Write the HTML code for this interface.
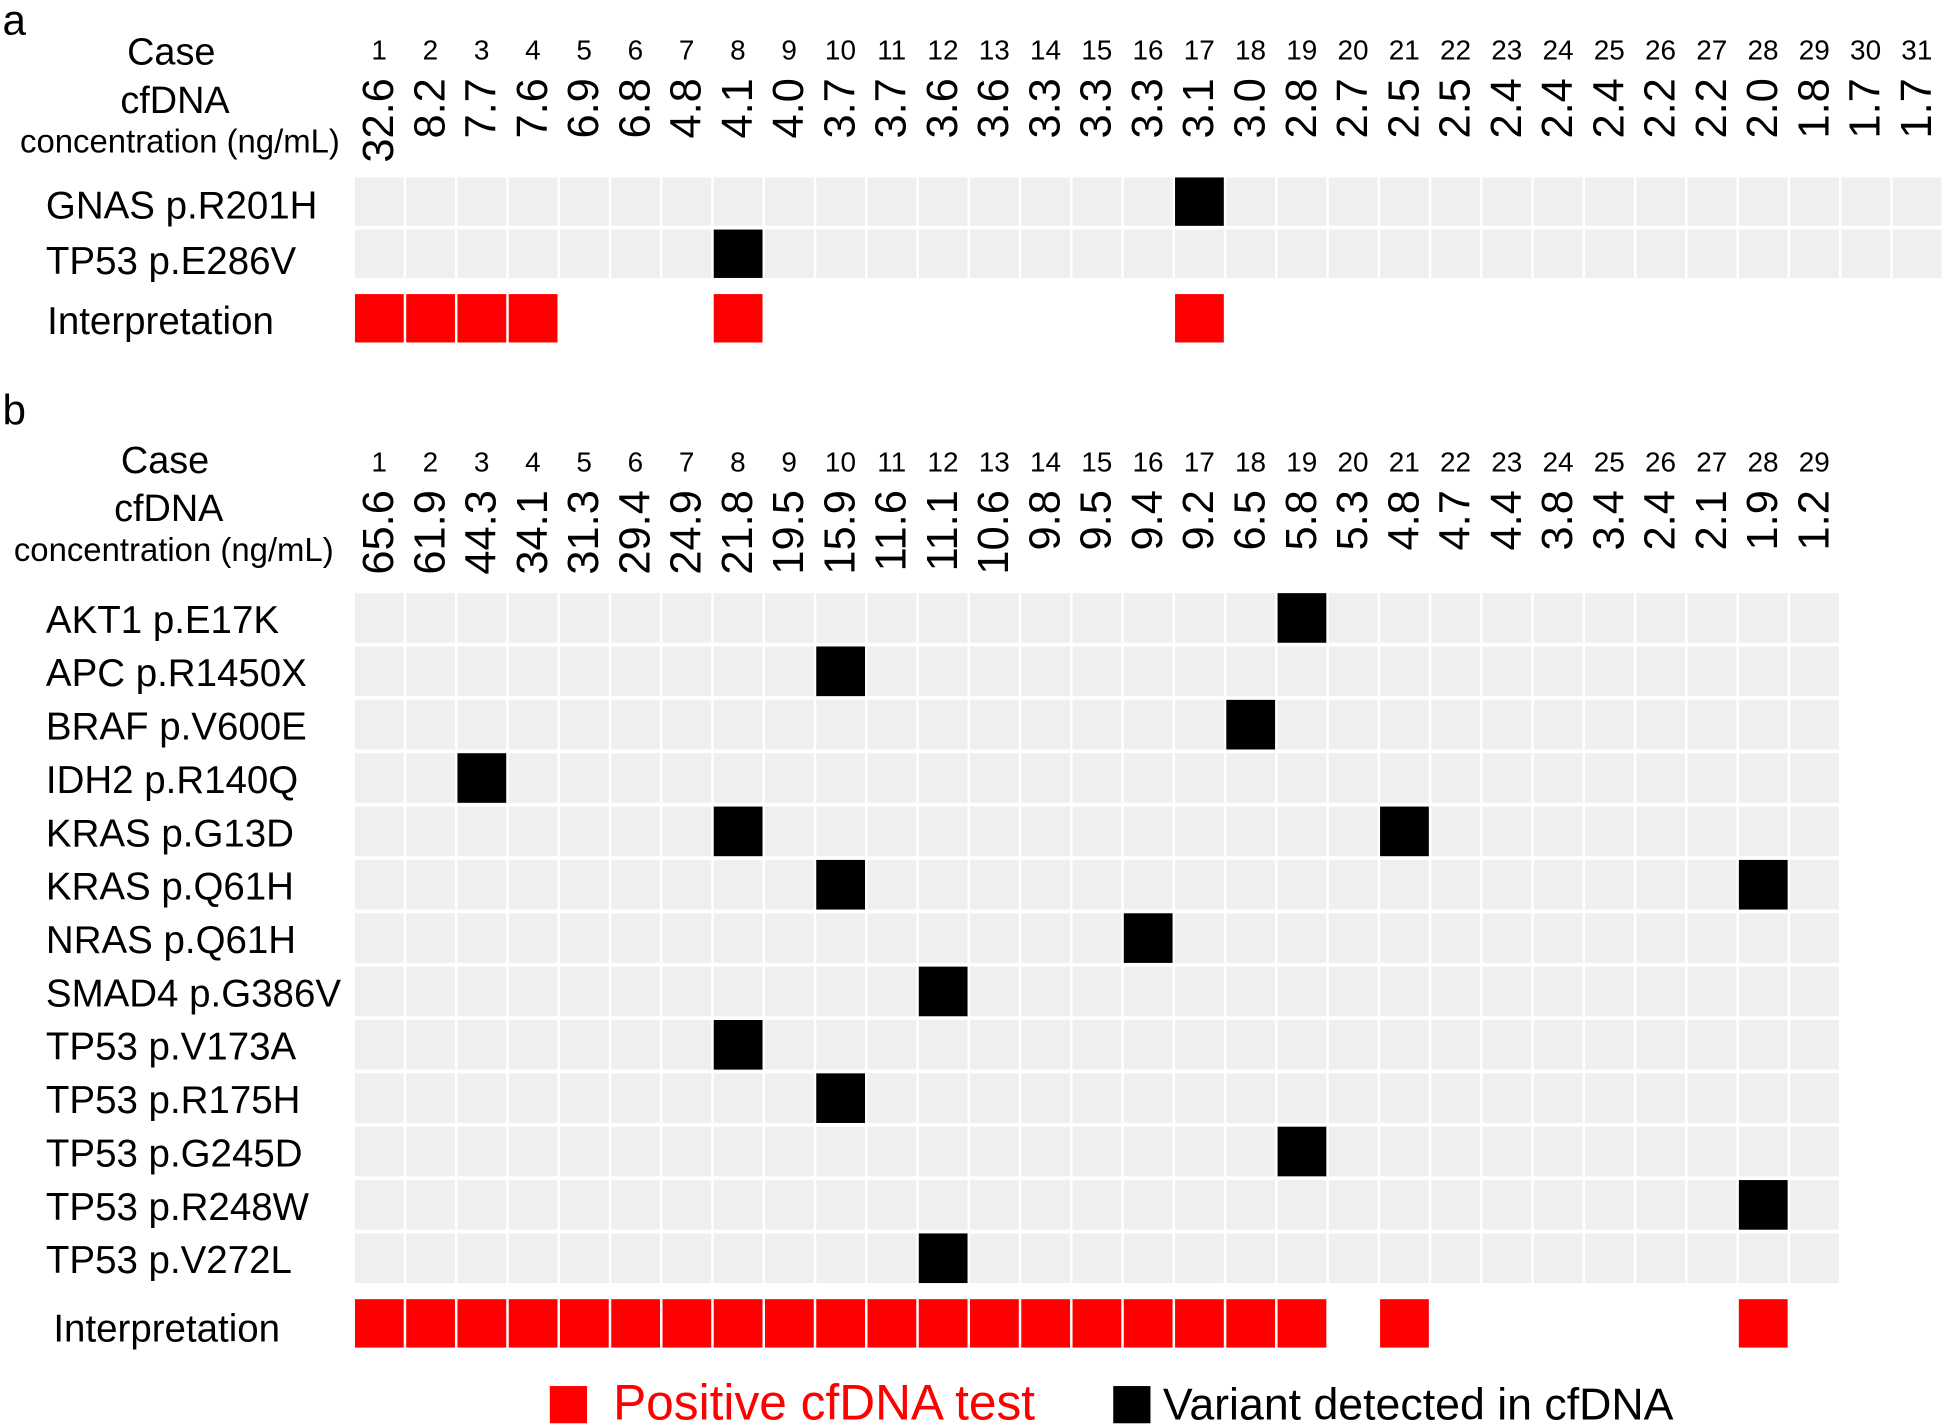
<!DOCTYPE html>
<html><head><meta charset="utf-8"><style>
html,body{margin:0;padding:0;background:#fff;}
svg{display:block;font-family:"Liberation Sans",Arial,sans-serif;}
</style></head><body>
<svg width="1946" height="1427" viewBox="0 0 1568 1150" preserveAspectRatio="none" xmlns="http://www.w3.org/2000/svg">
<g id="cells"></g>
<g font-size="34" fill="#000"><text x="2" y="28">a</text><text x="2" y="342">b</text></g>
<g font-size="30.5" text-anchor="middle">
<text x="138" y="52">Case</text><text x="141" y="91">cfDNA</text>
<text x="133" y="381">Case</text><text x="136" y="420">cfDNA</text>
</g>
<g font-size="26.5" text-anchor="middle">
<text x="145" y="123">concentration (ng/mL)</text>
<text x="140" y="452">concentration (ng/mL)</text>
</g>
<g font-size="31">
<text x="37" y="176">GNAS p.R201H</text>
<text x="37" y="221">TP53 p.E286V</text>
<text x="38" y="269">Interpretation</text>
<text x="37" y="510">AKT1 p.E17K</text>
<text x="37" y="553">APC p.R1450X</text>
<text x="37" y="596">BRAF p.V600E</text>
<text x="37" y="639">IDH2 p.R140Q</text>
<text x="37" y="682">KRAS p.G13D</text>
<text x="37" y="725">KRAS p.Q61H</text>
<text x="37" y="768">NRAS p.Q61H</text>
<text x="37" y="811">SMAD4 p.G386V</text>
<text x="37" y="854">TP53 p.V173A</text>
<text x="37" y="897">TP53 p.R175H</text>
<text x="37" y="940">TP53 p.G245D</text>
<text x="37" y="983">TP53 p.R248W</text>
<text x="37" y="1026">TP53 p.V272L</text>
<text x="43" y="1081">Interpretation</text>
</g>
<g font-size="22.5" text-anchor="middle">
<text x="305.5" y="48">1</text><text x="346.8" y="48">2</text><text x="388.1" y="48">3</text><text x="429.4" y="48">4</text><text x="470.7" y="48">5</text><text x="512" y="48">6</text><text x="553.3" y="48">7</text><text x="594.6" y="48">8</text><text x="635.9" y="48">9</text><text x="677.2" y="48">10</text><text x="718.5" y="48">11</text><text x="759.8" y="48">12</text><text x="801.1" y="48">13</text><text x="842.4" y="48">14</text><text x="883.7" y="48">15</text><text x="925" y="48">16</text><text x="966.3" y="48">17</text><text x="1007.6" y="48">18</text><text x="1048.9" y="48">19</text><text x="1090.2" y="48">20</text><text x="1131.5" y="48">21</text><text x="1172.8" y="48">22</text><text x="1214.1" y="48">23</text><text x="1255.4" y="48">24</text><text x="1296.7" y="48">25</text><text x="1338" y="48">26</text><text x="1379.3" y="48">27</text><text x="1420.6" y="48">28</text><text x="1461.9" y="48">29</text><text x="1503.2" y="48">30</text><text x="1544.5" y="48">31</text>
<text x="305.5" y="380">1</text><text x="346.8" y="380">2</text><text x="388.1" y="380">3</text><text x="429.4" y="380">4</text><text x="470.7" y="380">5</text><text x="512" y="380">6</text><text x="553.3" y="380">7</text><text x="594.6" y="380">8</text><text x="635.9" y="380">9</text><text x="677.2" y="380">10</text><text x="718.5" y="380">11</text><text x="759.8" y="380">12</text><text x="801.1" y="380">13</text><text x="842.4" y="380">14</text><text x="883.7" y="380">15</text><text x="925" y="380">16</text><text x="966.3" y="380">17</text><text x="1007.6" y="380">18</text><text x="1048.9" y="380">19</text><text x="1090.2" y="380">20</text><text x="1131.5" y="380">21</text><text x="1172.8" y="380">22</text><text x="1214.1" y="380">23</text><text x="1255.4" y="380">24</text><text x="1296.7" y="380">25</text><text x="1338" y="380">26</text><text x="1379.3" y="380">27</text><text x="1420.6" y="380">28</text><text x="1461.9" y="380">29</text>
</g>
<g font-size="35" text-anchor="end" dominant-baseline="central">
<text transform="translate(305.5,63) rotate(-90)">32.6</text><text transform="translate(346.8,63) rotate(-90)">8.2</text><text transform="translate(388.1,63) rotate(-90)">7.7</text><text transform="translate(429.4,63) rotate(-90)">7.6</text><text transform="translate(470.7,63) rotate(-90)">6.9</text><text transform="translate(512,63) rotate(-90)">6.8</text><text transform="translate(553.3,63) rotate(-90)">4.8</text><text transform="translate(594.6,63) rotate(-90)">4.1</text><text transform="translate(635.9,63) rotate(-90)">4.0</text><text transform="translate(677.2,63) rotate(-90)">3.7</text><text transform="translate(718.5,63) rotate(-90)">3.7</text><text transform="translate(759.8,63) rotate(-90)">3.6</text><text transform="translate(801.1,63) rotate(-90)">3.6</text><text transform="translate(842.4,63) rotate(-90)">3.3</text><text transform="translate(883.7,63) rotate(-90)">3.3</text><text transform="translate(925,63) rotate(-90)">3.3</text><text transform="translate(966.3,63) rotate(-90)">3.1</text><text transform="translate(1007.6,63) rotate(-90)">3.0</text><text transform="translate(1048.9,63) rotate(-90)">2.8</text><text transform="translate(1090.2,63) rotate(-90)">2.7</text><text transform="translate(1131.5,63) rotate(-90)">2.5</text><text transform="translate(1172.8,63) rotate(-90)">2.5</text><text transform="translate(1214.1,63) rotate(-90)">2.4</text><text transform="translate(1255.4,63) rotate(-90)">2.4</text><text transform="translate(1296.7,63) rotate(-90)">2.4</text><text transform="translate(1338,63) rotate(-90)">2.2</text><text transform="translate(1379.3,63) rotate(-90)">2.2</text><text transform="translate(1420.6,63) rotate(-90)">2.0</text><text transform="translate(1461.9,63) rotate(-90)">1.8</text><text transform="translate(1503.2,63) rotate(-90)">1.7</text><text transform="translate(1544.5,63) rotate(-90)">1.7</text>
<text transform="translate(305.5,395) rotate(-90)">65.6</text><text transform="translate(346.8,395) rotate(-90)">61.9</text><text transform="translate(388.1,395) rotate(-90)">44.3</text><text transform="translate(429.4,395) rotate(-90)">34.1</text><text transform="translate(470.7,395) rotate(-90)">31.3</text><text transform="translate(512,395) rotate(-90)">29.4</text><text transform="translate(553.3,395) rotate(-90)">24.9</text><text transform="translate(594.6,395) rotate(-90)">21.8</text><text transform="translate(635.9,395) rotate(-90)">19.5</text><text transform="translate(677.2,395) rotate(-90)">15.9</text><text transform="translate(718.5,395) rotate(-90)">11.6</text><text transform="translate(759.8,395) rotate(-90)">11.1</text><text transform="translate(801.1,395) rotate(-90)">10.6</text><text transform="translate(842.4,395) rotate(-90)">9.8</text><text transform="translate(883.7,395) rotate(-90)">9.5</text><text transform="translate(925,395) rotate(-90)">9.4</text><text transform="translate(966.3,395) rotate(-90)">9.2</text><text transform="translate(1007.6,395) rotate(-90)">6.5</text><text transform="translate(1048.9,395) rotate(-90)">5.8</text><text transform="translate(1090.2,395) rotate(-90)">5.3</text><text transform="translate(1131.5,395) rotate(-90)">4.8</text><text transform="translate(1172.8,395) rotate(-90)">4.7</text><text transform="translate(1214.1,395) rotate(-90)">4.4</text><text transform="translate(1255.4,395) rotate(-90)">3.8</text><text transform="translate(1296.7,395) rotate(-90)">3.4</text><text transform="translate(1338,395) rotate(-90)">2.4</text><text transform="translate(1379.3,395) rotate(-90)">2.1</text><text transform="translate(1420.6,395) rotate(-90)">1.9</text><text transform="translate(1461.9,395) rotate(-90)">1.2</text>
</g>
<rect x="443" y="1117" width="30" height="30" fill="#ff0000"/>
<text x="494" y="1144" font-size="40" fill="#ff0000">Positive cfDNA test</text>
<rect x="897" y="1117" width="30" height="30" fill="#000"/>
<text x="937" y="1144" font-size="36" fill="#000">Variant detected in cfDNA</text>
<script>
(function(){
var g=document.getElementById('cells'),ns='http://www.w3.org/2000/svg';
function r(x,y,w,h,c){var e=document.createElementNS(ns,'rect');e.setAttribute('x',x);e.setAttribute('y',y);e.setAttribute('width',w);e.setAttribute('height',h);e.setAttribute('fill',c);g.appendChild(e);}
function cx(i){return 286+41.3*(i-1);}
var A=[17,8];
for(var row=0;row<2;row++)for(var i=1;i<=31;i++){r(cx(i),143+row*42,39.3,39,i==A[row]?'#000':'#efefef');}
[1,2,3,4,8,17].forEach(function(i){r(cx(i),237,39.3,39,'#ff0000');});
var B=[[19],[10],[18],[3],[8,21],[10,28],[16],[12],[8],[10],[19],[28],[12]];
for(var row=0;row<13;row++)for(var i=1;i<=29;i++){r(cx(i),478+row*43,39.3,40,B[row].indexOf(i)>=0?'#000':'#efefef');}
var I=[];for(var k=1;k<=19;k++)I.push(k);I.push(21,28);
I.forEach(function(i){r(cx(i),1047,39.3,39,'#ff0000');});
})();
</script>
</svg>
</body></html>
